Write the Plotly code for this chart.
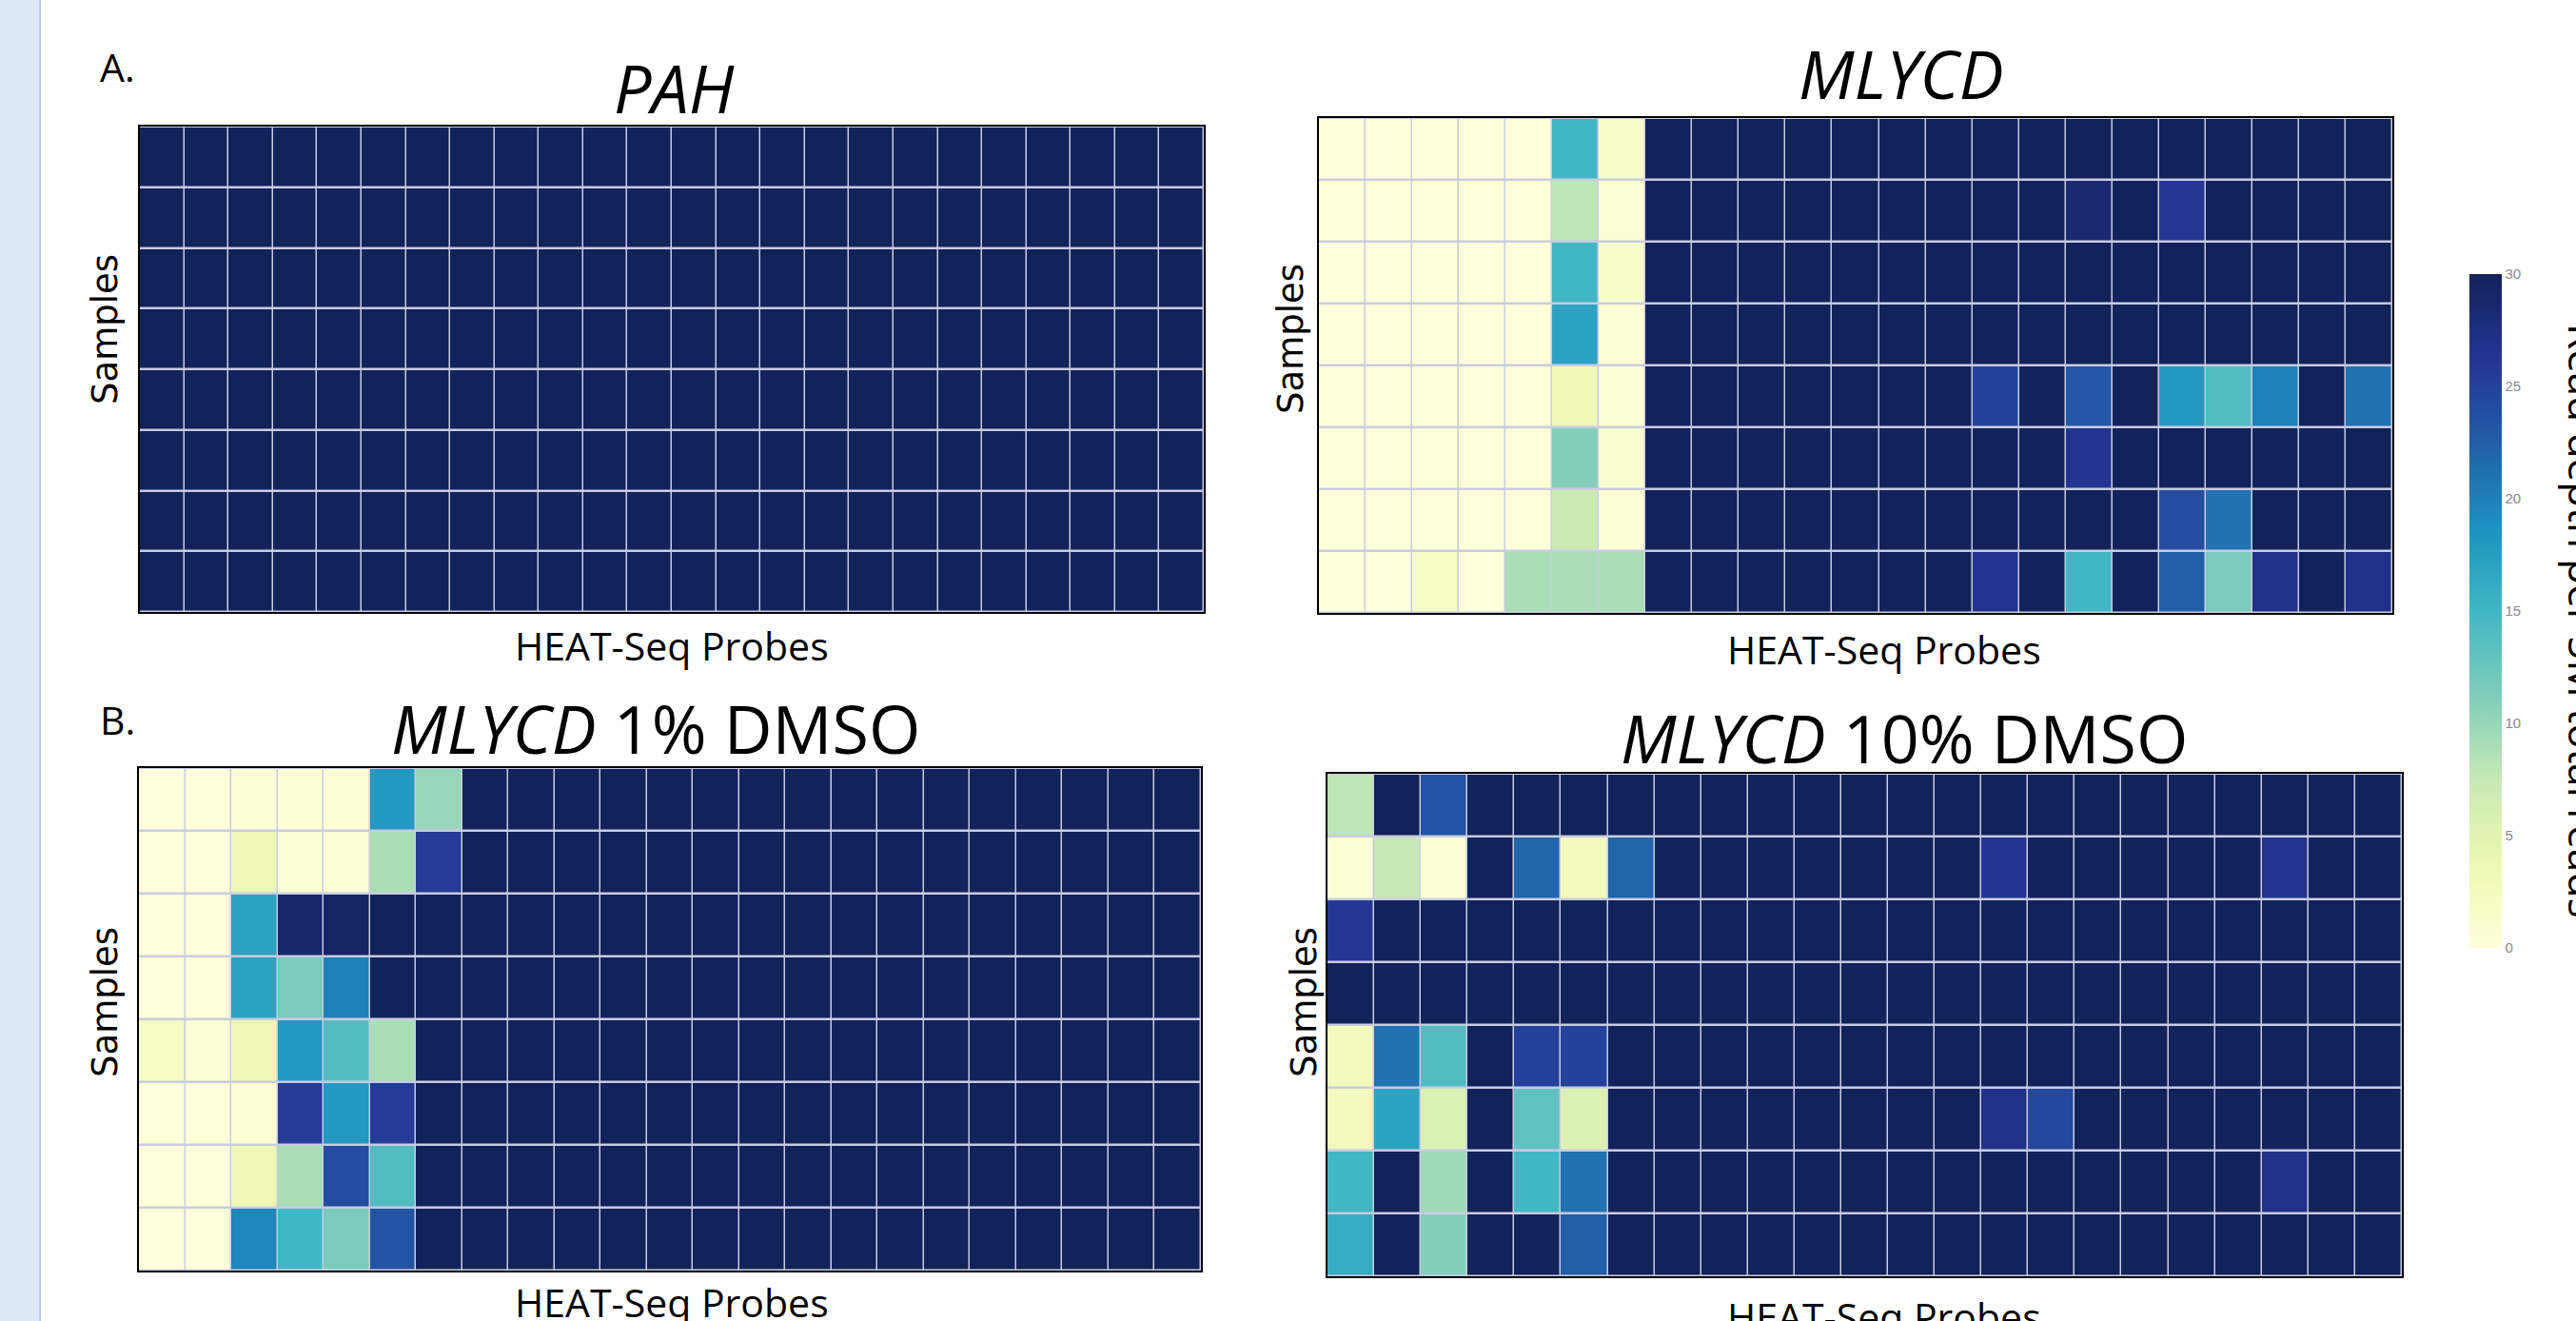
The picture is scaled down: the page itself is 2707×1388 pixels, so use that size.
import plotly.graph_objects as go

W, H = 2707, 1388

# ---------------- data (read depth per 5M total reads) ----------------
tick_values = [0, 5, 10, 15, 20, 25, 30]

pah_z = [
    [30, 30, 30, 30, 30, 30, 30, 30, 30, 30, 30, 30, 30, 30, 30, 30, 30, 30, 30, 30, 30, 30, 30, 30],
    [30, 30, 30, 30, 30, 30, 30, 30, 30, 30, 30, 30, 30, 30, 30, 30, 30, 30, 30, 30, 30, 30, 30, 30],
    [30, 30, 30, 30, 30, 30, 30, 30, 30, 30, 30, 30, 30, 30, 30, 30, 30, 30, 30, 30, 30, 30, 30, 30],
    [30, 30, 30, 30, 30, 30, 30, 30, 30, 30, 30, 30, 30, 30, 30, 30, 30, 30, 30, 30, 30, 30, 30, 30],
    [30, 30, 30, 30, 30, 30, 30, 30, 30, 30, 30, 30, 30, 30, 30, 30, 30, 30, 30, 30, 30, 30, 30, 30],
    [30, 30, 30, 30, 30, 30, 30, 30, 30, 30, 30, 30, 30, 30, 30, 30, 30, 30, 30, 30, 30, 30, 30, 30],
    [30, 30, 30, 30, 30, 30, 30, 30, 30, 30, 30, 30, 30, 30, 30, 30, 30, 30, 30, 30, 30, 30, 30, 30],
    [30, 30, 30, 30, 30, 30, 30, 30, 30, 30, 30, 30, 30, 30, 30, 30, 30, 30, 30, 30, 30, 30, 30, 30],
]

mlycd_z = [
    [0, 0, 0, 0, 0, 15, 1.5, 30, 30, 30, 30, 30, 30, 30, 30, 30, 30, 30, 30, 30, 30, 30, 30],
    [0, 0, 0, 0, 0, 8, 0.5, 30, 30, 30, 30, 30, 30, 30, 30, 30, 28.5, 30, 26, 30, 30, 30, 30],
    [0, 0, 0, 0, 0, 15, 1.5, 30, 30, 30, 30, 30, 30, 30, 30, 30, 30, 30, 30, 30, 30, 30, 30],
    [0, 0, 0, 0, 0, 17, 0.5, 30, 30, 30, 30, 30, 30, 30, 30, 30, 30, 30, 30, 30, 30, 30, 30],
    [0, 0, 0, 0, 0, 3, 0.5, 30, 30, 30, 30, 30, 30, 30, 25, 30, 23, 30, 18, 14, 20, 30, 21],
    [0, 0, 0, 0, 0, 11, 1, 30, 30, 30, 30, 30, 30, 30, 30, 30, 26.5, 30, 30, 30, 30, 30, 30],
    [0, 0, 0, 0, 0, 7, 0.5, 30, 30, 30, 30, 30, 30, 30, 30, 30, 30, 30, 24, 21, 30, 30, 30],
    [0, 0, 2, 0, 9, 9, 9, 30, 30, 30, 30, 30, 30, 30, 26.5, 30, 15, 30, 22.5, 11.5, 27, 30, 27],
]

dmso1_z = [
    [0, 0, 0.5, 0.5, 0.5, 18, 10, 30, 30, 30, 30, 30, 30, 30, 30, 30, 30, 30, 30, 30, 30, 30, 30],
    [0, 0, 3.5, 0.5, 0.5, 9, 25.5, 30, 30, 30, 30, 30, 30, 30, 30, 30, 30, 30, 30, 30, 30, 30, 30],
    [0, 0, 17, 29, 29.5, 30, 30, 30, 30, 30, 30, 30, 30, 30, 30, 30, 30, 30, 30, 30, 30, 30, 30],
    [0, 0, 17, 11.5, 20, 30, 30, 30, 30, 30, 30, 30, 30, 30, 30, 30, 30, 30, 30, 30, 30, 30, 30],
    [2, 0.5, 3.5, 18, 14, 9, 30, 30, 30, 30, 30, 30, 30, 30, 30, 30, 30, 30, 30, 30, 30, 30, 30],
    [0, 0, 0.5, 25.5, 18, 25.5, 30, 30, 30, 30, 30, 30, 30, 30, 30, 30, 30, 30, 30, 30, 30, 30, 30],
    [0, 0, 3.5, 9, 24, 14, 30, 30, 30, 30, 30, 30, 30, 30, 30, 30, 30, 30, 30, 30, 30, 30, 30],
    [0, 0, 19.5, 15, 11.5, 23.5, 30, 30, 30, 30, 30, 30, 30, 30, 30, 30, 30, 30, 30, 30, 30, 30, 30],
]

dmso10_z = [
    [8, 30, 23.5, 30, 30, 30, 30, 30, 30, 30, 30, 30, 30, 30, 30, 30, 30, 30, 30, 30, 30, 30, 30],
    [0.5, 7.5, 0.5, 30, 22, 2.5, 22, 30, 30, 30, 30, 30, 30, 30, 26.5, 30, 30, 30, 30, 30, 26.5, 30, 30],
    [26, 30, 30, 30, 30, 30, 30, 30, 30, 30, 30, 30, 30, 30, 30, 30, 30, 30, 30, 30, 30, 30, 30],
    [30, 30, 30, 30, 30, 30, 30, 30, 30, 30, 30, 30, 30, 30, 30, 30, 30, 30, 30, 30, 30, 30, 30],
    [2.5, 21, 14, 30, 25, 25, 30, 30, 30, 30, 30, 30, 30, 30, 30, 30, 30, 30, 30, 30, 30, 30, 30],
    [2.5, 17, 5.5, 30, 13, 5.5, 30, 30, 30, 30, 30, 30, 30, 30, 27, 24.5, 30, 30, 30, 30, 30, 30, 30],
    [15, 30, 9.5, 30, 15, 21, 30, 30, 30, 30, 30, 30, 30, 30, 30, 30, 30, 30, 30, 30, 27, 30, 30],
    [16, 30, 11, 30, 30, 22.5, 30, 30, 30, 30, 30, 30, 30, 30, 30, 30, 30, 30, 30, 30, 30, 30, 30],
]

panel_titles = ["<i>PAH</i>", "<i>MLYCD</i>", "<i>MLYCD</i> 1% DMSO", "<i>MLYCD</i> 10% DMSO"]
x_label = "HEAT-Seq Probes"
y_label = "Samples"
cbar_title = "Read depth per 5M total reads"

# ---------------- layout helpers ----------------
def fx(x):
    return x / W


def fy(y):
    return 1 - y / H


colorscale = [
    [0.0, "rgb(255,255,217)"], [0.125, "rgb(237,248,177)"], [0.25, "rgb(199,233,180)"],
    [0.375, "rgb(127,205,187)"], [0.5, "rgb(65,182,196)"], [0.625, "rgb(29,145,192)"],
    [0.75, "rgb(34,94,168)"], [0.875, "rgb(37,52,148)"], [1.0, "rgb(18,34,90)"],
]

# (left, right, top, bottom) in pixels
boxes = [(147, 1265, 133, 643), (1386, 2514, 124, 644), (146, 1262, 807, 1335), (1395, 2524, 813, 1341)]
datasets = [pah_z, mlycd_z, dmso1_z, dmso10_z]

fig = go.Figure()
layout = dict(
    width=W, height=H, margin=dict(l=0, r=0, t=0, b=0),
    paper_bgcolor="white", plot_bgcolor="rgb(200,204,225)", showlegend=False,
)

for i, (z, box) in enumerate(zip(datasets, boxes)):
    n = "" if i == 0 else str(i + 1)
    fig.add_trace(go.Heatmap(z=z, xaxis="x" + n, yaxis="y" + n, coloraxis="coloraxis",
                             xgap=1.5, ygap=2.5, hoverinfo="z"))
    l, r, t, b = box
    ncols, nrows = len(z[0]), len(z)
    layout["xaxis" + n] = dict(domain=[fx(l), fx(r)], anchor="y" + n, range=[-0.5, ncols - 0.5],
                               showticklabels=False, ticks="", showgrid=False, zeroline=False,
                               showline=True, linecolor="black", linewidth=2, mirror=True)
    layout["yaxis" + n] = dict(domain=[fy(b), fy(t)], anchor="x" + n, range=[nrows - 0.5, -0.5],
                               showticklabels=False, ticks="", showgrid=False, zeroline=False,
                               showline=True, linecolor="black", linewidth=2, mirror=True)

layout["coloraxis"] = dict(
    colorscale=colorscale, cmin=0, cmax=30,
    colorbar=dict(x=fx(2595), xanchor="left", xpad=0, y=fy(288), yanchor="top", ypad=0,
                  lenmode="pixels", len=708, thicknessmode="pixels", thickness=34,
                  outlinewidth=0, tickvals=tick_values, ticks="",
                  tickfont=dict(family="Liberation Sans", size=15, color="#8a8a8a")),
)

fig.update_layout(**layout)

ann = []
TF = "Open Sans"
# panel letters
ann.append(dict(text="A.", x=fx(103), y=fy(70), xanchor="left", yanchor="middle",
                font=dict(family=TF, size=41, color="black")))
ann.append(dict(text="B.", x=fx(103), y=fy(756), xanchor="left", yanchor="middle",
                font=dict(family=TF, size=41, color="black")))
# titles
title_pos = [(708, 92), (1998, 77), (689, 765), (2001, 775)]
for txt, (x, y) in zip(panel_titles, title_pos):
    ann.append(dict(text=txt, x=fx(x), y=fy(y), xanchor="center", yanchor="middle",
                    font=dict(family=TF, size=70, color="black")))
# x labels
xl_pos = [(706, 678), (1980, 682), (706, 1368), (1980, 1383)]
for x, y in xl_pos:
    ann.append(dict(text=x_label, x=fx(x), y=fy(y), xanchor="center", yanchor="middle",
                    font=dict(family=TF, size=41, color="black")))
# y labels
yl_pos = [(110, 346), (1356, 356), (110, 1053), (1370, 1053)]
for x, y in yl_pos:
    ann.append(dict(text=y_label, x=fx(x), y=fy(y), xanchor="center", yanchor="middle",
                    textangle=-90, font=dict(family="DejaVu Sans", size=37, color="black")))
# colorbar title (partly cut off at right edge, as in the original slide)
ann.append(dict(text=cbar_title, x=fx(2716), y=fy(652), xanchor="center", yanchor="middle",
                textangle=90, font=dict(family=TF, size=44, color="black")))

for a in ann:
    a.update(xref="paper", yref="paper", showarrow=False)
fig.update_layout(annotations=ann)

# left slide strip
fig.add_shape(type="rect", xref="paper", yref="paper", x0=0, x1=fx(42), y0=0, y1=1,
              fillcolor="rgb(221,232,245)", line=dict(width=0), layer="below")
fig.add_shape(type="line", xref="paper", yref="paper", x0=fx(42), x1=fx(42), y0=0, y1=1,
              line=dict(color="rgb(190,205,226)", width=2))

fig.write_html(
    "out.html",
    config={"displayModeBar": False},
    post_script="document.body.style.margin='0px';document.body.style.overflow='hidden';",
)
